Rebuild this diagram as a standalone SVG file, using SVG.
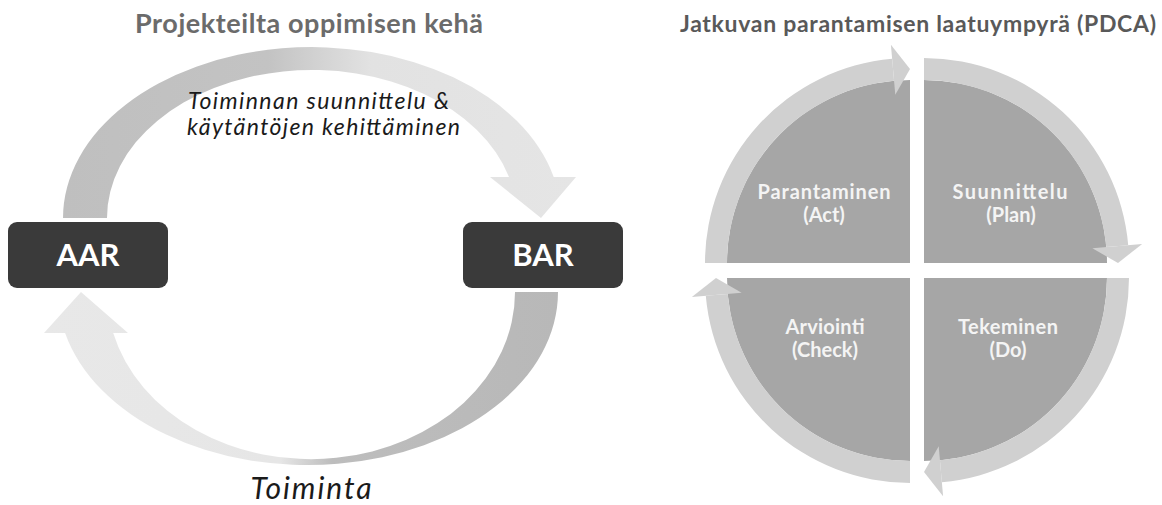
<svg xmlns="http://www.w3.org/2000/svg" width="1162" height="505" viewBox="0 0 1162 505">
  <defs>
    <linearGradient id="gradTop" gradientUnits="userSpaceOnUse" x1="63" y1="0" x2="576" y2="0">
      <stop offset="0" stop-color="#bfbfbf"/>
      <stop offset="0.40" stop-color="#c3c3c3"/>
      <stop offset="0.60" stop-color="#e2e2e2"/>
      <stop offset="1" stop-color="#e5e5e5"/>
    </linearGradient>
    <linearGradient id="gradBottom" gradientUnits="userSpaceOnUse" x1="44" y1="0" x2="558" y2="0">
      <stop offset="0" stop-color="#e8e8e8"/>
      <stop offset="0.46" stop-color="#e6e6e6"/>
      <stop offset="0.56" stop-color="#bdbdbd"/>
      <stop offset="1" stop-color="#b8b8b8"/>
    </linearGradient>
  </defs>
  <style>
    .title { font-family: Lato, "Liberation Sans", sans-serif; font-weight: 700; text-anchor: middle; }
    .box { fill: #3a3a3a; }
    .boxLabel { font-family: Lato, "Liberation Sans", sans-serif; font-weight: 700; font-size: 31px; fill: #ffffff; text-anchor: middle; }
    .note { font-family: Lato, "Liberation Sans", sans-serif; font-style: italic; fill: #1a1a1a; }
    .ring { fill: #d0d0d0; }
    .pie { fill: #a6a6a6; }
    .qLabel { font-family: Lato, "Liberation Sans", sans-serif; font-weight: 700; font-size: 20px; fill: #f4f4f4; text-anchor: middle; }
  </style>

  <rect width="1162" height="505" fill="#ffffff"/>

  <!-- Titles -->
  <text id="title-left" class="title" x="309" y="33" font-size="27" fill="#6b6b6b" textLength="348">Projekteilta oppimisen kehä</text>
  <text id="title-right" class="title" x="918" y="32" font-size="23" fill="#595959" textLength="476">Jatkuvan parantamisen laatuympyrä (PDCA)</text>

  <!-- Learning loop connectors -->
  <g id="connectors">
    <path id="arrow-aar-bar" fill="url(#gradTop)" d="M63,218 A249,171 0 0 1 553.7,177 L576,177 L541,218 L490,177 L509,177 A205,148 0 0 0 107,218 Z"/>
    <path id="arrow-bar-aar" fill="url(#gradBottom)" d="M558,292 A250,173 0 0 1 65.1,333 L44,333 L81,292 L128,333 L113.2,333 A204,167 0 0 0 515,292 Z"/>
  </g>

  <text id="label-plan" class="note" font-size="23">
    <tspan x="188" y="109" textLength="261">Toiminnan suunnittelu &amp;</tspan>
    <tspan x="187" y="135" textLength="273">käytäntöjen kehittäminen</tspan>
  </text>
  <text id="label-action" class="note" x="311" y="499" font-size="30" text-anchor="middle" textLength="121">Toiminta</text>

  <!-- Review nodes -->
  <g id="node-aar">
    <rect class="box" x="8" y="222" width="160" height="66" rx="9"/>
    <text class="boxLabel" x="88" y="266">AAR</text>
  </g>
  <g id="node-bar">
    <rect class="box" x="463" y="222" width="160" height="66" rx="9"/>
    <text class="boxLabel" x="543" y="266">BAR</text>
  </g>

  <!-- PDCA quadrants -->
  <g id="node-act">
    <path class="pie" d="M910,263 L727,263 A183,183 0 0 1 910,80 Z"/>
    <text class="qLabel" x="824" y="199" textLength="133">Parantaminen</text>
    <text class="qLabel" x="824" y="222">(Act)</text>
  </g>
  <g id="node-plan">
    <path class="pie" d="M924,263 L924,80 A183,183 0 0 1 1107,263 Z"/>
    <text class="qLabel" x="1010" y="199" textLength="115">Suunnittelu</text>
    <text class="qLabel" x="1011" y="222">(Plan)</text>
  </g>
  <g id="node-do">
    <path class="pie" d="M924,278 L1107,278 A183,183 0 0 1 924,461 Z"/>
    <text class="qLabel" x="1008" y="334" textLength="100">Tekeminen</text>
    <text class="qLabel" x="1008" y="357">(Do)</text>
  </g>
  <g id="node-check">
    <path class="pie" d="M910,278 L910,461 A183,183 0 0 1 727,278 Z"/>
    <text class="qLabel" x="825" y="334" textLength="79">Arviointi</text>
    <text class="qLabel" x="825" y="357">(Check)</text>
  </g>

  <!-- PDCA cycle arrows -->
  <g id="pdca-connectors" class="ring">
    <path d="M705,263 A205,205 0 0 1 892.13,58.78 L894.05,80.70 A183,183 0 0 0 727,263 Z"/>
    <path d="M890.91,44.83 L910,69 L895.27,94.64 Z"/>
    <path d="M924,58 A205,205 0 0 1 1128.22,245.13 L1106.30,247.05 A183,183 0 0 0 924,80 Z"/>
    <path d="M1142.17,243.91 L1118,263 L1092.36,248.27 Z"/>
    <path d="M1129,278 A205,205 0 0 1 941.87,482.22 L939.95,460.30 A183,183 0 0 0 1107,278 Z"/>
    <path d="M943.09,496.17 L924,472 L938.73,446.36 Z"/>
    <path d="M910,483 A205,205 0 0 1 705.78,295.87 L727.70,293.95 A183,183 0 0 0 910,461 Z"/>
    <path d="M691.83,297.09 L716,278 L741.64,292.73 Z"/>
  </g>
</svg>
